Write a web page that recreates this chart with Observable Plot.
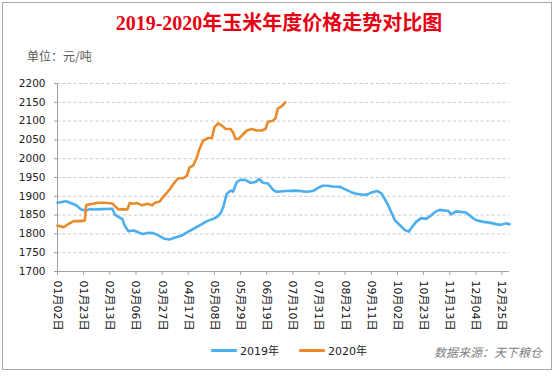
<!DOCTYPE html>
<html>
<head>
<meta charset="utf-8">
<script src="https://cdn.jsdelivr.net/npm/d3@7"></script>
<script src="https://cdn.jsdelivr.net/npm/@observablehq/plot@0.6"></script>
<style>
  html, body { margin: 0; padding: 0; background: #fff; }
  #wrap { position: relative; width: 558px; height: 376px; overflow: hidden; font-family: "DejaVu Sans", "Noto Sans CJK SC", sans-serif; }
  #frame { position: absolute; left: 2px; top: 2px; width: 550px; height: 368px; border: 1px solid #a6a6a6; box-sizing: border-box; pointer-events: none; }
  #title { position: absolute; left: 0; width: 558px; top: 11px; text-align: center; color: #e60012; font-family: "Liberation Serif", "Noto Sans CJK SC", serif; font-weight: bold; font-size: 20px; line-height: 24px; }
  #unit { position: absolute; left: 27px; top: 49px; color: #595959; font-family: "Noto Sans CJK SC", sans-serif; font-size: 12px; line-height: 14px; }
  #legend { position: absolute; left: 0; top: 342px; width: 558px; display: flex; justify-content: center; padding-left: 20px; box-sizing: border-box; font-family: "DejaVu Sans", "Noto Sans CJK SC", sans-serif; font-size: 11px; color: #222; }
  .item { display: flex; align-items: center; margin: 0 10px; }
  .sw { display: inline-block; width: 26px; height: 3px; margin-right: 3px; border-radius: 1px; }
  #source { position: absolute; right: 16px; top: 343px; color: #7f7f7f; font-style: italic; font-family: "Noto Sans CJK SC", sans-serif; font-size: 12px; }
  #chart { position: absolute; left: 0; top: 0; }
</style>
</head>
<body>
<div id="wrap">
  <div id="chart"></div>
  <div id="title">2019-2020年玉米年度价格走势对比图</div>
  <div id="unit">单位：元/吨</div>
  <div id="legend"></div>
  <div id="source">数据来源：天下粮仓</div>
  <div id="frame"></div>
</div>
<script>
// ---- data ----
const seriesNames = ["2019年", "2020年"];
const seriesColors = ["#4aaeef", "#ea8b2b"];

const dates2019 = ["01-02","01-09","01-17","01-21","01-25","01-28","01-31","02-06","02-15","02-17","02-20","02-23","02-25","02-28",
  "03-04","03-07","03-09","03-12","03-16","03-20","03-24","03-29","04-02","04-06","04-12","04-17","04-22","04-28",
  "05-02","05-07","05-10","05-13","05-15","05-18","05-21","05-23","05-26","05-29","06-02","06-06","06-10","06-13","06-16","06-20","06-24","06-27",
  "07-05","07-13","07-21","07-26","07-30","08-03","08-07","08-11","08-17","08-22","08-26","08-30",
  "09-04","09-08","09-11","09-16","09-19","09-22","09-24","09-27","09-30","10-04","10-08","10-11","10-13","10-17","10-21","10-25","10-29",
  "11-02","11-05","11-12","11-14","11-18","11-26","11-30","12-04","12-10","12-15","12-20","12-24","12-28","12-31"];
const values2019 = [1883,1887,1876,1865,1862,1866,1865,1866,1867,1852,1845,1840,1822,1807,
  1809,1806,1802,1800,1803,1802,1796,1787,1785,1790,1796,1806,1815,1826,
  1834,1840,1845,1855,1870,1907,1915,1913,1938,1944,1943,1936,1938,1946,1936,1934,1918,1912,
  1914,1915,1912,1914,1922,1928,1928,1926,1925,1917,1911,1907,
  1904,1905,1910,1914,1908,1892,1880,1858,1836,1823,1810,1806,1815,1832,1842,1840,1849,
  1860,1864,1861,1852,1860,1857,1846,1837,1832,1830,1826,1824,1828,1826];

const dates2020 = ["01-02","01-07","01-11","01-15","01-21","01-24","01-25","01-28","02-04","02-09","02-15","02-17","02-20","02-23","02-27",
  "03-01","03-04","03-07","03-11","03-15","03-19","03-21","03-25","03-28","03-31","04-02","04-06","04-09","04-13","04-16","04-18","04-21","04-24","04-26","04-29",
  "05-03","05-06","05-08","05-11","05-14","05-17","05-21","05-23","05-25","05-27","05-30","06-03","06-07","06-11","06-15","06-18","06-20","06-24","06-26","06-28","07-01","07-04"];
const values2020 = [1822,1818,1827,1834,1834,1836,1876,1879,1883,1883,1881,1874,1865,1866,1865,
  1882,1880,1882,1876,1880,1876,1882,1886,1899,1910,1918,1937,1948,1948,1955,1977,1982,2004,2026,2048,
  2055,2055,2083,2094,2088,2079,2079,2070,2053,2052,2061,2075,2079,2075,2075,2079,2098,2101,2107,2134,2139,2150];

const tickLabels = ["01-02","01-23","02-13","03-06","03-27","04-17","05-08","05-29","06-19","07-10","07-31","08-21","09-11","10-02","10-23","11-13","12-04","12-25"];
const yTicks = [1700,1750,1800,1850,1900,1950,2000,2050,2100,2150,2200];

// ---- build ----
const parse = s => { const [m, d] = s.split("-").map(Number); return new Date(Date.UTC(2019, m - 1, d)); };
const fmt = d => String(d.getUTCMonth() + 1).padStart(2, "0") + "月" + String(d.getUTCDate()).padStart(2, "0") + "日";
const rows = [];
dates2019.forEach((d, i) => rows.push({date: parse(d), value: values2019[i], series: seriesNames[0]}));
dates2020.forEach((d, i) => rows.push({date: parse(d), value: values2020[i], series: seriesNames[1]}));
const tickDates = tickLabels.map(parse);
const x0 = parse("01-02"), x1 = parse("12-31");

const chart = Plot.plot({
  width: 558, height: 376,
  marginLeft: 57, marginRight: 49, marginTop: 83, marginBottom: 105,
  style: {background: "transparent", fontFamily: "'DejaVu Sans', 'Noto Sans CJK SC', sans-serif", color: "#222"},
  x: {type: "utc", domain: [x0, x1]},
  y: {domain: [1700, 2200]},
  color: {domain: seriesNames, range: seriesColors},
  marks: [
    Plot.gridY(yTicks.filter(v => v > 1700), {stroke: "#c9c9c9", strokeOpacity: 1, strokeDasharray: "3,2.5"}),
    Plot.ruleY([1700], {stroke: "#a0a0a0"}),
    Plot.ruleX([x0], {stroke: "#a0a0a0"}),
    Plot.axisY({ticks: yTicks, tickFormat: d => String(d), tickSize: 3, tickPadding: 9, stroke: "#a0a0a0", fill: "#222", fontSize: 10.5, label: null}),
    Plot.axisX({ticks: tickDates, tickFormat: fmt, tickRotate: 90, tickSize: 4, tickPadding: 5, stroke: "#a0a0a0", fill: "#111", fontSize: 11, label: null}),
    Plot.line(rows, {x: "date", y: "value", z: "series", stroke: "series", strokeWidth: 2.6, curve: "linear"})
  ]
});
document.getElementById("chart").appendChild(chart);

const legend = document.getElementById("legend");
seriesNames.forEach((n, i) => {
  const it = document.createElement("div"); it.className = "item";
  const sw = document.createElement("span"); sw.className = "sw"; sw.style.background = seriesColors[i];
  const t = document.createElement("span"); t.textContent = n;
  it.appendChild(sw); it.appendChild(t); legend.appendChild(it);
});
</script>
</body>
</html>
